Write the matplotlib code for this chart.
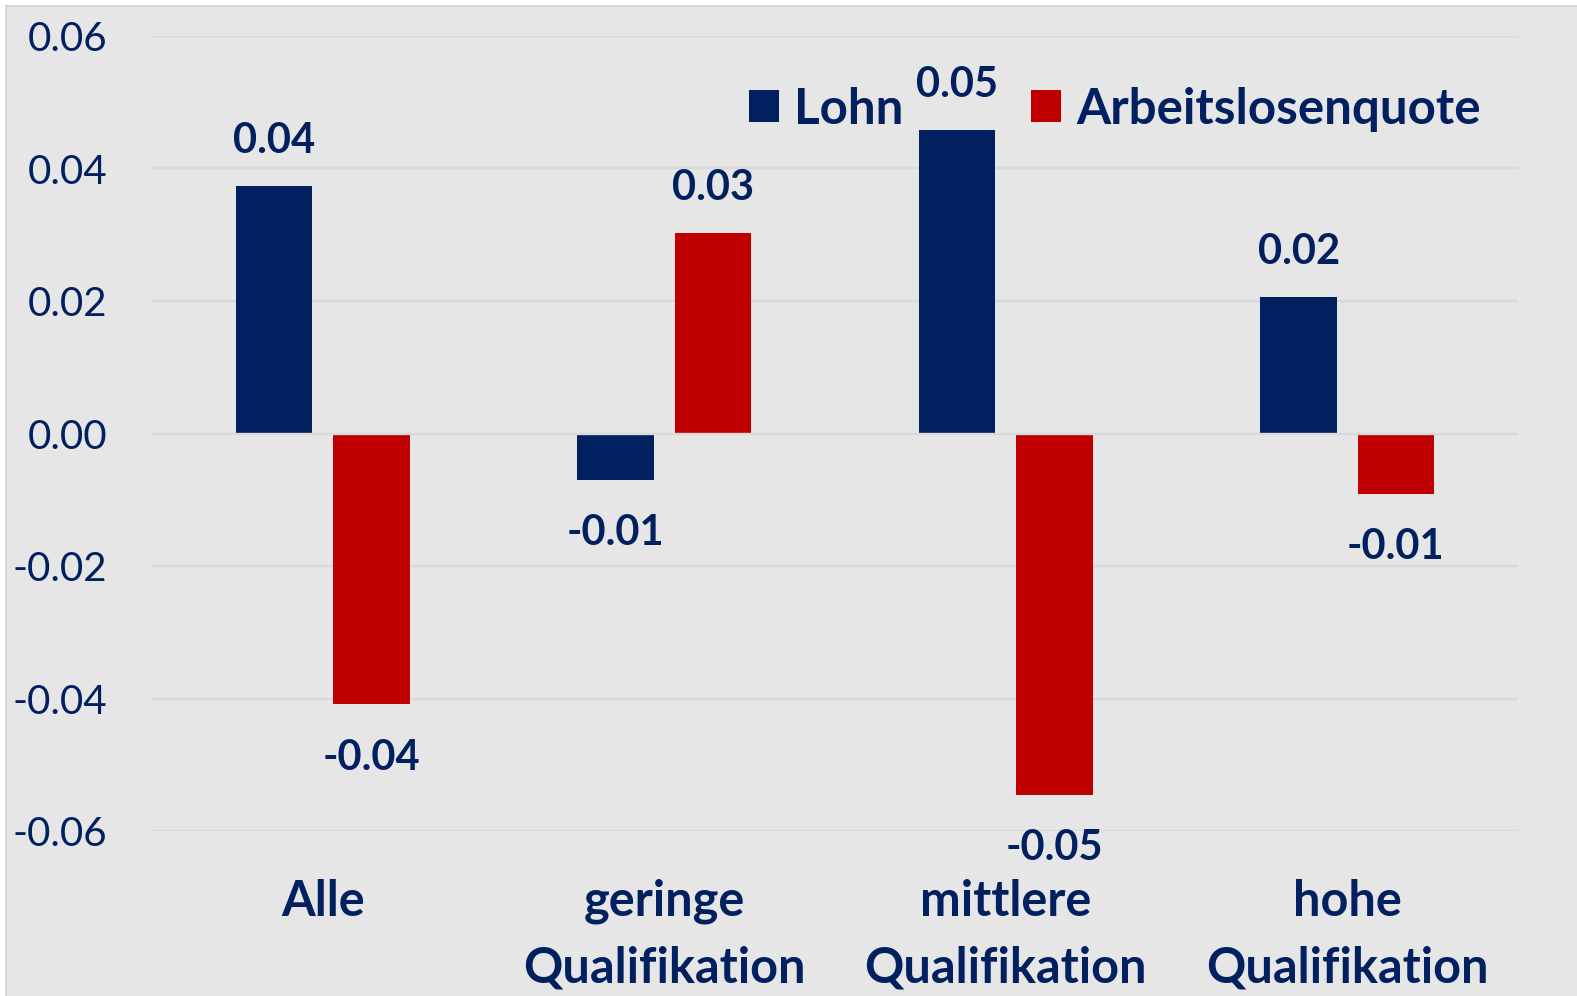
import matplotlib.pyplot as plt
from matplotlib.patches import Rectangle
import numpy as np

# Daten
kategorien = ["Alle", "geringe\nQualifikation", "mittlere\nQualifikation", "hohe\nQualifikation"]
lohn = [0.0373, -0.0070, 0.0458, 0.0206]
arbeitslosenquote = [-0.0409, 0.0302, -0.0545, -0.0091]
y_ticks = [-0.06, -0.04, -0.02, 0.00, 0.02, 0.04, 0.06]

NAVY = '#002060'
ROT = '#C00000'
HINTERGRUND = '#E7E6E6'
GITTER = '#D9D9D9'

plt.rcParams['font.family'] = ['Lato', 'DejaVu Sans']

W, H = 1577, 996
fig = plt.figure(figsize=(W / 100, H / 100), dpi=100, facecolor='white')

# Rahmen / Hintergrund
fig.patches.append(Rectangle((6 / W, -0.05), 1.0, 1.05 - 6.5 / H,
                             transform=fig.transFigure, facecolor=HINTERGRUND,
                             edgecolor='#D0D0D0', linewidth=1.2, zorder=-5))

ax = fig.add_axes([152 / W, 1 - 831 / H, (1518 - 152) / W, (831 - 36) / H])
ax.set_zorder(2)
ax.patch.set_visible(False)

x = np.arange(len(kategorien))
breite = 0.224
versatz = 0.1425

b1 = ax.bar(x - versatz, lohn, breite, color=NAVY, label='Lohn', zorder=2)
b2 = ax.bar(x + versatz, arbeitslosenquote, breite, color=ROT, label='Arbeitslosenquote', zorder=2)

# Gitterlinien (Nulllinie liegt über den Balken)
for t in y_ticks:
    ax.axhline(t, color=GITTER, linewidth=1.7, zorder=1 if t != 0 else 3)

# Beschriftungen der Balken
for bars in (b1, b2):
    for rect in bars:
        v = rect.get_height()
        cx = rect.get_x() + rect.get_width() / 2
        dy = 24 if v >= 0 else -47
        ax.annotate(f"{v:.2f}", (cx, v), xytext=(0, dy), textcoords='offset points',
                    ha='center', va='baseline', fontsize=30, fontweight='bold',
                    color=NAVY, annotation_clip=False)

ax.set_xlim(-0.5, len(kategorien) - 0.5)
ax.set_ylim(-0.06, 0.06)
ax.set_yticks(y_ticks)
ax.set_yticklabels([f"{t:.2f}" for t in y_ticks], fontsize=29, color=NAVY)
ax.set_xticks(x)
ax.set_xticklabels(kategorien, fontsize=35, fontweight='bold', color=NAVY,
                   linespacing=1.58, multialignment='center')
ax.tick_params(axis='y', length=0, pad=32)
ax.tick_params(axis='x', length=0, pad=34.5)
for s in ax.spines.values():
    s.set_visible(False)

leg = ax.legend(loc='center left', bbox_to_anchor=(749 / W, 1 - 109 / H),
                bbox_transform=fig.transFigure, ncol=2, frameon=False,
                prop={'size': 35.5, 'weight': 'bold'}, handlelength=0.6,
                handleheight=0.6, handletextpad=0.31, columnspacing=2.6,
                borderpad=0, borderaxespad=0)
for t in leg.get_texts():
    t.set_color(NAVY)

fig.savefig('out.png', dpi=100, facecolor=fig.get_facecolor())
